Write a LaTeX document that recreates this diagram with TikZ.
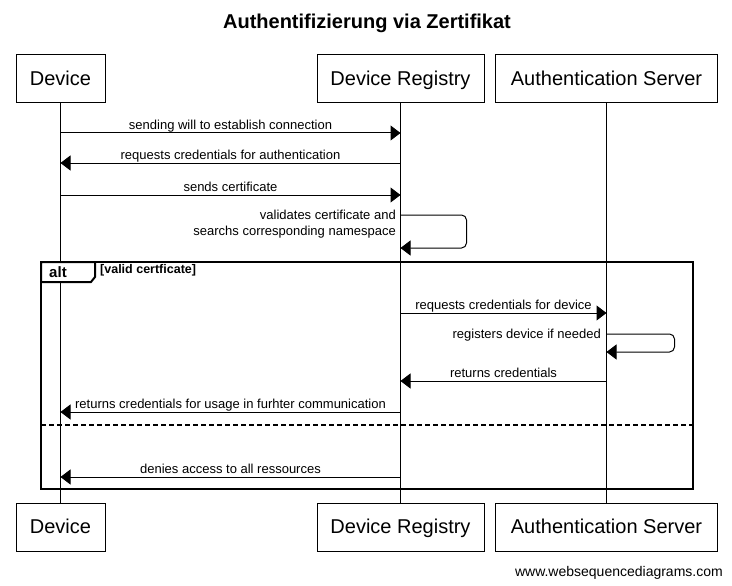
\documentclass[tikz,border=0pt]{standalone}
\usepackage{fontspec}
\setmainfont{Liberation Sans}
\usetikzlibrary{arrows.meta}

\begin{document}
\begin{tikzpicture}[
    x=1pt, y=-1pt,
    actor/.style={
        rectangle,
        draw=black,
        line width=1pt,
        minimum height=48pt,
        inner sep=0pt,
        text height=15.5pt,
        text depth=3pt,
        font=\fontsize{20}{24}\selectfont
    },
    lifeline/.style={
        line width=1pt
    },
    msg/.style={
        line width=1pt,
        -{Triangle[length=10pt,width=15pt]}
    },
    msglabel/.style={
        font=\fontsize{13}{16}\selectfont,
        inner sep=0pt,
        text height=9pt,
        text depth=3pt
    },
    selflabel/.style={
        font=\fontsize{13}{16}\selectfont,
        inner sep=0pt,
        align=right,
        anchor=north east
    },
    altframe/.style={
        line width=2pt
    }
]
\useasboundingbox (0,0) rectangle (732,586);

% Titel
\node[font=\bfseries\fontsize{20}{24}\selectfont] (title) at (367,23) {Authentifizierung via Zertifikat};

% Teilnehmer oben
\node[actor, minimum width=89pt] (devA) at (60.5,79) {Device};
\node[actor, minimum width=167pt] (regA) at (400.5,79) {Device Registry};
\node[actor, minimum width=222pt] (authA) at (606.5,79) {Authentication Server};

% Teilnehmer unten
\node[actor, minimum width=89pt] (devB) at (60.5,527) {Device};
\node[actor, minimum width=167pt] (regB) at (400.5,527) {Device Registry};
\node[actor, minimum width=222pt] (authB) at (606.5,527) {Authentication Server};

% Lebenslinien
\draw[lifeline] (devA) -- (devB);
\draw[lifeline] (regA) -- (regB);
\draw[lifeline] (authA) -- (authB);

% Zeilen der Nachrichten
\coordinate (m1) at (0,133);
\coordinate (m2) at (0,163);
\coordinate (m3) at (0,195);
\coordinate (s1) at (0,215);
\coordinate (s1b) at (0,248);
\coordinate (m5) at (0,313);
\coordinate (s2) at (0,334);
\coordinate (s2b) at (0,352);
\coordinate (m7) at (0,381);
\coordinate (m8) at (0,412);
\coordinate (m9) at (0,477);

% alt Rahmen
\coordinate (altNW) at (41,262);
\coordinate (altSE) at (693,489);
\draw[altframe] (altNW) rectangle (altSE);
\draw[altframe, fill=white] (altNW) -- ++(54,0) -- ++(0,15) -- ++(-4,5) -- ++(-50,0) -- cycle;
\node[font=\bfseries\fontsize{15}{18}\selectfont, inner sep=0pt] (alttag) at (58,272) {alt};
\node[font=\bfseries\fontsize{12.5}{15}\selectfont, inner sep=0pt, anchor=west] (guard) at (100,270) {[valid certficate]};
\coordinate (elseW) at (41,425);
\draw[altframe, dash pattern=on 5pt off 3pt] (elseW) -- (elseW -| altSE);

% Nachrichten
\draw[msg] (devA |- m1) -- node[msglabel, above] {sending will to establish connection} (regA |- m1);
\draw[msg] (regA |- m2) -- node[msglabel, above] {requests credentials for authentication} (devA |- m2);
\draw[msg] (devA |- m3) -- node[msglabel, above] {sends certificate} (regA |- m3);

\draw[msg, rounded corners=5pt] (regA |- s1) -- ++(66,0) -- ++(0,33) -- (regA |- s1b);
\node[selflabel] (s1lbl) at (396,210) {validates certificate and\\searchs corresponding namespace};

\draw[msg] (regA |- m5) -- node[msglabel, above] {requests credentials for device} (authA |- m5);

\draw[msg, rounded corners=5pt] (authA |- s2) -- ++(68,0) -- ++(0,18) -- (authA |- s2b);
\node[selflabel] (s2lbl) at (601,329) {registers device if needed};

\draw[msg] (authA |- m7) -- node[msglabel, above] {returns credentials} (regA |- m7);
\draw[msg] (regA |- m8) -- node[msglabel, above] {returns credentials for usage in furhter communication} (devA |- m8);
\draw[msg] (regA |- m9) -- node[msglabel, above] {denies access to all ressources} (devA |- m9);

% Fusszeile
\node[font=\fontsize{14}{17}\selectfont, inner sep=0pt, anchor=base east] (site) at (723,576) {www.websequencediagrams.com};

\end{tikzpicture}
\end{document}
